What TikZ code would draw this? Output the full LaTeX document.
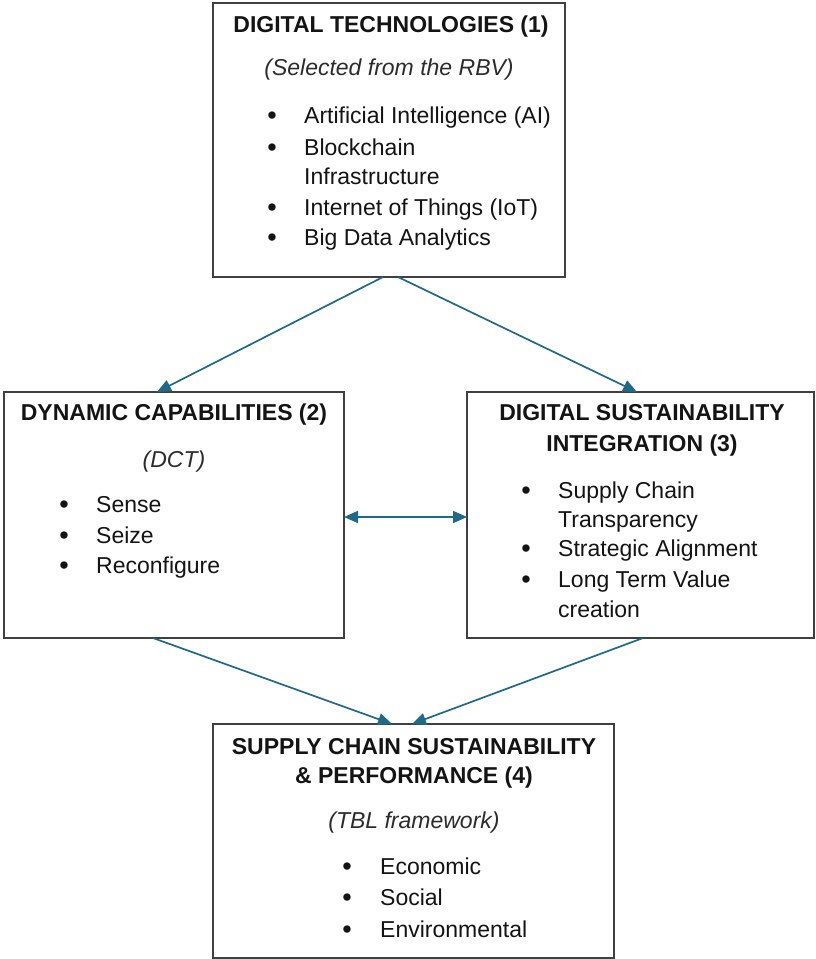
\documentclass[tikz,border=0pt]{standalone}
\usepackage{fontspec}
\setmainfont{Liberation Sans}
\usetikzlibrary{arrows.meta}
\definecolor{arrowblue}{HTML}{1F6A8A}
\definecolor{boxgray}{HTML}{404040}
\definecolor{txt}{HTML}{141414}
\tikzset{
  box/.style={draw=boxgray, line width=1.8pt, rectangle, inner sep=0pt, outer sep=0pt, fill=white},
  arr/.style={draw=arrowblue, line width=1.7pt, -{Triangle[length=14pt,width=12pt]}},
  darr/.style={draw=arrowblue, line width=1.7pt, {Triangle[length=14pt,width=12pt]}-{Triangle[length=14pt,width=12pt]}},
  ttl/.style={anchor=base, inner sep=0pt, font=\fontsize{23}{30}\selectfont\bfseries, text=txt},
  sub/.style={anchor=base, inner sep=0pt, font=\fontsize{23}{30}\selectfont\itshape, text=txt!90},
  itm/.style={anchor=base west, inner sep=0pt, font=\fontsize{23}{30}\selectfont, text=txt},
  bul/.style={anchor=base, inner sep=0pt, font=\fontsize{27}{30}\selectfont, text=txt}
}
\begin{document}
\begin{tikzpicture}[x=1pt,y=-1pt]
\useasboundingbox (0,0) rectangle (815,959);
% boxes
\node[box, minimum width=352pt, minimum height=274pt] (dt) at (389,140) {};
\node[box, minimum width=340pt, minimum height=246pt] (dc) at (174,515) {};
\node[box, minimum width=347pt, minimum height=246pt] (ds) at (640.5,515) {};
\node[box, minimum width=401pt, minimum height=234pt] (sc) at (413.5,841) {};
% top box text
\node[ttl] (t1) at (391,32) {DIGITAL TECHNOLOGIES (1)};
\node[sub] (t1s) at (389,75) {(Selected from the RBV)};
\node[bul] (t1b1) at (272,124) {•};
\node[itm] (t1i1) at (304,123) {Artificial Intelligence (AI)};
\node[bul] (t1b2) at (272,156) {•};
\node[itm] (t1i2) at (304,155) {Blockchain};
\node[itm] (t1i2b) at (304,184) {Infrastructure};
\node[bul] (t1b3) at (272,216) {•};
\node[itm] (t1i3) at (304,215) {Internet of Things (IoT)};
\node[bul] (t1b4) at (272,246) {•};
\node[itm] (t1i4) at (304,245) {Big Data Analytics};
% left box text
\node[ttl] (t2) at (174,420) {DYNAMIC CAPABILITIES (2)};
\node[sub] (t2s) at (174,467) {(DCT)};
\node[bul] (t2b1) at (64,513) {•};
\node[itm] (t2i1) at (96,512) {Sense};
\node[bul] (t2b2) at (64,544) {•};
\node[itm] (t2i2) at (96,543) {Seize};
\node[bul] (t2b3) at (64,574) {•};
\node[itm] (t2i3) at (96,573) {Reconfigure};
% right box text
\node[ttl] (t3a) at (642,420) {DIGITAL SUSTAINABILITY};
\node[ttl] (t3b) at (642,451) {INTEGRATION (3)};
\node[bul] (t3b1) at (526,499) {•};
\node[itm] (t3i1) at (558,498) {Supply Chain};
\node[itm] (t3i1b) at (558,527) {Transparency};
\node[bul] (t3b2) at (526,557) {•};
\node[itm] (t3i2) at (558,556) {Strategic Alignment};
\node[bul] (t3b3) at (526,588) {•};
\node[itm] (t3i3) at (558,587) {Long Term Value};
\node[itm] (t3i3b) at (558,617) {creation};
% bottom box text
\node[ttl] (t4a) at (414,754) {SUPPLY CHAIN SUSTAINABILITY};
\node[ttl] (t4b) at (414,783) {\& PERFORMANCE (4)};
\node[sub] (t4s) at (414,828) {(TBL framework)};
\node[bul] (t4b1) at (347,875) {•};
\node[itm] (t4i1) at (380,874) {Economic};
\node[bul] (t4b2) at (347,906) {•};
\node[itm] (t4i2) at (380,905) {Social};
\node[bul] (t4b3) at (347,938) {•};
\node[itm] (t4i3) at (380,937) {Environmental};
% connectors
\draw[arr] ([xshift=-6pt]dt.south) -- ([xshift=-17pt]dc.north);
\draw[arr] ([xshift=9pt]dt.south) -- ([xshift=-3.5pt]ds.north);
\draw[darr] ([yshift=-2pt]dc.east) -- ([yshift=-2pt]ds.west);
\draw[arr] ([xshift=-21pt]dc.south) -- ([xshift=-21.5pt]sc.north);
\draw[arr] ([xshift=2.5pt]ds.south) -- ([xshift=-1.5pt]sc.north);
\end{tikzpicture}
\end{document}
